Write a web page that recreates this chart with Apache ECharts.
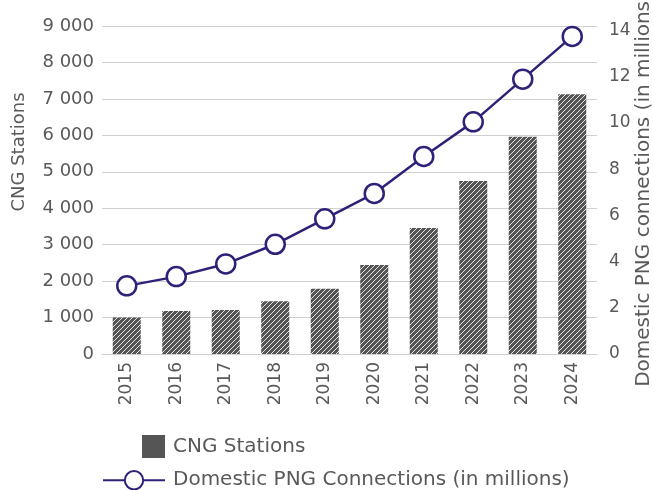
<!DOCTYPE html>
<html>
<head>
<meta charset="utf-8">
<script src="https://cdn.jsdelivr.net/npm/echarts@6/dist/echarts.min.js"></script>
<style>
html, body { margin: 0; padding: 0; background: #fff; }
#chart { width: 653px; height: 490px; }
</style>
</head>
<body>
<div id="chart"></div>
<script>
var years = ['2015', '2016', '2017', '2018', '2019', '2020', '2021', '2022', '2023', '2024'];
var cngStations = [1000, 1180, 1210, 1450, 1790, 2440, 3460, 4750, 5960, 7130];
var pngConnections = [2.95, 3.35, 3.9, 4.75, 5.85, 6.95, 8.55, 10.05, 11.9, 13.75];

var FONT = 'DejaVu Sans';
var TXT = '#595959';

// hatch pattern for the bars
var cv = document.createElement('canvas');
cv.width = 5; cv.height = 5;
var c = cv.getContext('2d');
c.fillStyle = '#555555';
c.fillRect(0, 0, 5, 5);
c.strokeStyle = 'rgba(255,255,255,0.85)';
c.lineWidth = 1;
c.beginPath();
c.moveTo(0, 5); c.lineTo(5, 0);
c.moveTo(-1, 1); c.lineTo(1, -1);
c.moveTo(4, 6); c.lineTo(6, 4);
c.stroke();

function spaced(v) {
    return String(v).replace(/\B(?=(\d{3})+(?!\d))/g, ' ');
}

var myChart = echarts.init(document.getElementById('chart'));

var option = {
    animation: false,
    grid: { left: 102, right: 56, top: 26, bottom: 136, outerBoundsMode: 'none', containLabel: false },
    legend: {
        orient: 'vertical',
        left: 102,
        top: 435,
        height: 90,
        padding: 0,
        itemWidth: 62,
        itemHeight: 23,
        itemGap: 12,
        textStyle: { fontFamily: FONT, fontSize: 20, color: TXT, padding: [0, 0, 0, 3] },
        data: [
            { name: 'CNG Stations', icon: 'path://M0,0M39,0H62V23H39Z', itemStyle: { color: '#555555' } },
            { name: 'Domestic PNG Connections (in millions)' }
        ]
    },
    xAxis: {
        type: 'category',
        data: years,
        axisLine: { show: true, lineStyle: { color: '#d0d0d0' } },
        axisTick: { show: false },
        axisLabel: { rotate: 90, margin: 8, fontFamily: FONT, fontSize: 17, color: TXT }
    },
    yAxis: [
        {
            type: 'value',
            min: 0,
            max: 9000,
            interval: 1000,
            name: 'CNG Stations',
            nameLocation: 'middle',
            nameGap: 74,
            nameMoveOverlap: false,
            nameRotate: 90,
            nameTextStyle: { fontFamily: FONT, fontSize: 18, color: TXT, padding: [0, 0, 0, 76] },
            axisLine: { show: false },
            axisTick: { show: false },
            splitLine: { lineStyle: { color: '#d0d0d0' } },
            axisLabel: { margin: 8, fontFamily: FONT, fontSize: 18, color: TXT, formatter: spaced }
        },
        {
            type: 'value',
            min: 0,
            max: 14.2,
            interval: 2,
            position: 'right',
            name: 'Domestic PNG connections (in millions)',
            nameLocation: 'middle',
            nameGap: 37,
            nameMoveOverlap: false,
            nameRotate: 90,
            nameTextStyle: { fontFamily: FONT, fontSize: 20, color: TXT },
            axisLine: { show: false },
            axisTick: { show: false },
            splitLine: { show: false },
            axisLabel: { margin: 12, showMaxLabel: false, fontFamily: FONT, fontSize: 17, color: TXT }
        }
    ],
    series: [
        {
            name: 'CNG Stations',
            type: 'bar',
            yAxisIndex: 0,
            barWidth: 28,
            itemStyle: { color: { image: cv, repeat: 'repeat' } },
            data: cngStations
        },
        {
            name: 'Domestic PNG Connections (in millions)',
            type: 'line',
            yAxisIndex: 1,
            symbol: 'circle',
            symbolSize: 19,
            lineStyle: { color: '#2f2178', width: 2.5 },
            itemStyle: { color: '#ffffff', borderColor: '#2f2178', borderWidth: 2.5 },
            data: pngConnections
        }
    ]
};
myChart.setOption(option);
</script>
</body>
</html>
